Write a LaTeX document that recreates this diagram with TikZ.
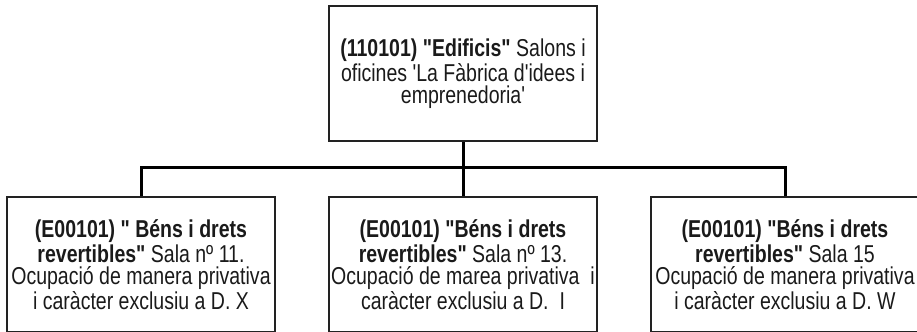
\documentclass[tikz,border=0pt]{standalone}
\usepackage{fontspec}
\setmainfont{Liberation Sans}[FakeStretch=0.8,Ligatures=TeXOff]
\usepackage{xcolor}
\usepackage{tikz}
\usetikzlibrary{positioning,calc}
\definecolor{frame}{HTML}{222222}
\definecolor{ink}{HTML}{1A1A1A}
\definecolor{wirec}{HTML}{000000}
\tikzset{
  box/.style={rectangle, draw=frame, line width=1pt, minimum width=134pt,
              minimum height=67.5pt, inner sep=1pt, align=center, text=ink,
              font=\fontsize{12.2}{10.9}\selectfont},
  wire/.style={draw=wirec, line width=1.5pt},
}

\begin{document}
\begin{tikzpicture}[node distance=27pt and 26pt]
    \useasboundingbox (0,0) rectangle (458.5pt,-166pt);
    \node[box] (edif) at (231.5pt,-36.75pt) {\textbf{(110101) "Edificis"} Salons i\\oficines 'La Fàbrica d'idees i\\emprenedoria'};
    \node[box, below=of edif] (sala13) {\textbf{(E00101) "Béns i drets}\\\textbf{revertibles"} Sala nº 13.\\Ocupació de marea privativa\ \ i\\caràcter exclusiu a D.\ \ I};
    \node[box, left=of sala13] (sala11) {\textbf{(E00101) " Béns i drets}\\\textbf{revertibles"} Sala nº 11.\\Ocupació de manera privativa\\i caràcter exclusiu a D. X};
    \node[box, right=of sala13] (sala15) {\textbf{(E00101) "Béns i drets}\\\textbf{revertibles"} Sala 15\\Ocupació de manera privativa\\i caràcter exclusiu a D. W};
    \coordinate (bus) at ($(edif.south)!0.47!(sala13.north)$);
    \draw[wire] (edif) -- (sala13);
    \draw[wire] (sala11.north) |- (bus) -| (sala15.north);
  \end{tikzpicture}
\end{document}
